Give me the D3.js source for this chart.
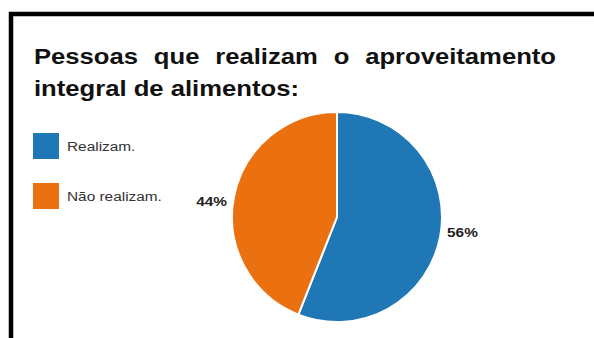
<!DOCTYPE html>
<html>
<head>
<meta charset="utf-8">
<script src="https://cdn.jsdelivr.net/npm/d3@7"></script>
<style>
  html, body { margin: 0; padding: 0; background: #fff; }
  svg { display: block; }
</style>
</head>
<body>
<svg id="chart" width="594" height="338"></svg>
<script>
// Survey answers: share of people who use food integrally
const categories = ["Realizam.", "Não realizam."];
const values = [56, 44];
const colors = ["#1f77b6", "#eb7110"];
const titleLines = ["Pessoas que realizam o aproveitamento", "integral de alimentos:"];

const svg = d3.select("#chart");
const font = "'Liberation Sans', Arial, sans-serif";
const stretch = 1.14; // text is drawn slightly wide

// Outer frame (open at right and bottom)
svg.append("path")
  .attr("d", "M11,338 L11,14 L594,14")
  .attr("fill", "none")
  .attr("stroke", "#000")
  .attr("stroke-width", 4.5);

// Title, first line justified across the frame width
const title = svg.append("g")
  .attr("transform", `translate(34,0) scale(${stretch},1)`)
  .attr("font-family", font).attr("font-weight", "bold")
  .attr("font-size", 22.5).attr("fill", "#111");
const t1 = title.append("text").attr("x", 0).attr("y", 64).text(titleLines[0]);
const w = t1.node().getComputedTextLength();
const nGaps = titleLines[0].split(" ").length - 1;
t1.attr("word-spacing", ((556 - 34) / stretch - w) / nGaps);
title.append("text").attr("x", 0).attr("y", 96).text(titleLines[1]);

// Legend
const legend = svg.append("g").attr("font-family", font).attr("font-size", 13.5).attr("fill", "#333");
const legendY = d3.scalePoint().domain(categories).range([146, 196]);
categories.forEach((c, i) => {
  legend.append("rect")
    .attr("x", 33).attr("y", legendY(c) - 13)
    .attr("width", 26).attr("height", 26)
    .attr("fill", colors[i]);
  legend.append("text")
    .attr("transform", `translate(67,${legendY(c)}) scale(${stretch},1)`)
    .attr("dy", "0.35em")
    .text(c);
});

// Pie
const cx = 337, cy = 217, r = 105;
const pie = d3.pie().sort(null).value(d => d);
const arcs = pie(values);
const arc = d3.arc().innerRadius(0).outerRadius(r);
const g = svg.append("g").attr("transform", `translate(${cx},${cy})`);
g.selectAll("path").data(arcs).join("path")
  .attr("d", arc)
  .attr("fill", (d, i) => colors[i])
  .attr("stroke", "#fff")
  .attr("stroke-width", 2)
  .attr("stroke-linejoin", "round");

// Percentage labels outside the slices
const labelArc = d3.arc().innerRadius(r + 7).outerRadius(r + 7);
g.selectAll("text").data(arcs).join("text")
  .attr("font-family", font).attr("font-weight", "bold").attr("font-size", 13.5)
  .attr("fill", "#222")
  .attr("text-anchor", d => (d.startAngle + d.endAngle) / 2 < Math.PI ? "start" : "end")
  .attr("dy", "0.35em")
  .attr("transform", d => {
    const [x, y] = labelArc.centroid(d);
    return `translate(${x},${y * 0.75}) scale(${stretch},1)`;
  })
  .text(d => d.value + "%");
</script>
</body>
</html>
